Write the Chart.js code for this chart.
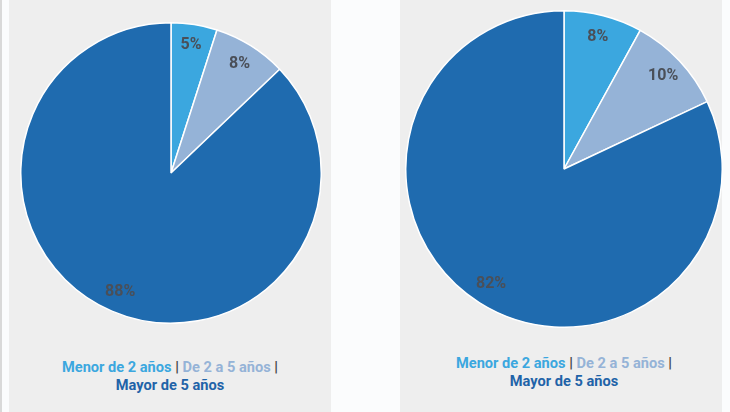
<!DOCTYPE html>
<html>
<head>
<meta charset="utf-8">
<script src="https://cdn.jsdelivr.net/npm/chart.js@4/dist/chart.umd.min.js"></script>
<style>
  body { margin: 0; width: 730px; height: 412px; background: #fbfcfd; position: relative; overflow: hidden; font-family: Roboto, sans-serif; }
  .edge { position: absolute; left: 0; top: 0; width: 2px; height: 412px; background: #d9d9d9; }
  .panel { position: absolute; top: 0; height: 412px; background: #eeeeee; }
  .box { position: absolute; }
  .legend { position: absolute; width: 322px; text-align: center; font-weight: bold; font-size: 14.6px; line-height: 18px; }
  .l1 { color: #3ba7df; }
  .l2 { color: #95b3d7; }
  .l3 { color: #1f63a8; }
  .sep { color: #444; }
</style>
</head>
<body>
<div class="edge"></div>
<div class="panel" style="left:9px;width:322px"></div>
<div class="panel" style="left:400px;width:322px"></div>
<div class="box" style="left:20px;top:22px;width:302px;height:302px"><canvas id="pieA"></canvas></div>
<div class="box" style="left:405px;top:10px;width:318px;height:318px"><canvas id="pieB"></canvas></div>
<div class="legend" style="left:9px;top:358px">
  <span class="l1">Menor de 2 años</span> <span class="sep">|</span> <span class="l2">De 2 a 5 años</span> <span class="sep">|</span><br>
  <span class="l3">Mayor de 5 años</span>
</div>
<div class="legend" style="left:403px;top:354px">
  <span class="l1">Menor de 2 años</span> <span class="sep">|</span> <span class="l2">De 2 a 5 años</span> <span class="sep">|</span><br>
  <span class="l3">Mayor de 5 años</span>
</div>
<script>
var categories = ['Menor de 2 años', 'De 2 a 5 años', 'Mayor de 5 años'];
var valuesA = [5, 8, 88];
var valuesB = [8, 10, 82];
var colors = ['#3ba7df', '#95b3d7', '#1f6baf'];

// percent labels inside each slice
var sliceLabels = {
    id: 'sliceLabels',
    afterDatasetsDraw: function (chart) {
        var ctx = chart.ctx;
        var meta = chart.getDatasetMeta(0);
        var data = chart.data.datasets[0].data;
        ctx.save();
        ctx.font = 'bold 16px Roboto, sans-serif';
        ctx.fillStyle = '#4a4f58';
        ctx.textAlign = 'center';
        ctx.textBaseline = 'middle';
        meta.data.forEach(function (arc, i) {
            var p = arc.getProps(['x', 'y', 'startAngle', 'endAngle', 'outerRadius'], true);
            var mid = (p.startAngle + p.endAngle) / 2;
            var r = p.outerRadius * 0.86;
            ctx.fillText(data[i] + '%', p.x + Math.cos(mid) * r, p.y + Math.sin(mid) * r);
        });
        ctx.restore();
    }
};

function makePie(id, values) {
    var ctx = document.getElementById(id).getContext('2d');
    return new Chart(ctx, {
        type: 'pie',
        data: {
            labels: categories,
            datasets: [{
                data: values,
                backgroundColor: colors,
                borderColor: '#ffffff',
                borderWidth: 1.5
            }]
        },
        options: {
            responsive: true,
            maintainAspectRatio: false,
            animation: false,
            layout: { padding: 0 },
            plugins: {
                legend: { display: false },
                tooltip: { enabled: false }
            }
        },
        plugins: [sliceLabels]
    });
}

makePie('pieA', valuesA);
makePie('pieB', valuesB);
</script>
</body>
</html>
